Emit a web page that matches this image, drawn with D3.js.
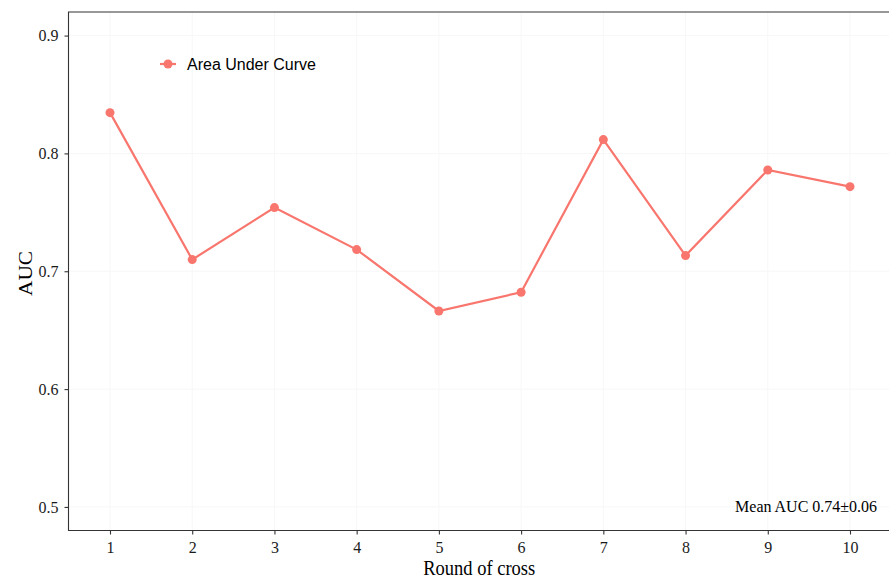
<!DOCTYPE html>
<html>
<head>
<meta charset="utf-8">
<script src="https://cdn.jsdelivr.net/npm/d3@7"></script>
<style>
  body { margin: 0; background: #fff; }
  svg { display: block; }
</style>
</head>
<body>
<svg id="chart" width="889" height="580"></svg>
<script>
// Cross-validation rounds and AUC per round
const rounds = [1, 2, 3, 4, 5, 6, 7, 8, 9, 10];
const aucValues = [0.8346, 0.7099, 0.7540, 0.7184, 0.6663, 0.6822, 0.8117, 0.7133, 0.7859, 0.7718];
const yTicks = [0.5, 0.6, 0.7, 0.8, 0.9];
const seriesName = "Area Under Curve";

const svg = d3.select("#chart");
const panel = { left: 68.5, top: 12, right: 889, bottom: 530.5 };
const color = "#F8766D";
const serif = "'Liberation Serif', 'Times New Roman', serif";

const x = d3.scaleLinear().domain([1, 10]).range([110, 850]);
const y = d3.scaleLinear().domain([0.48, 0.92]).range([panel.bottom, panel.top]);

const mean = d3.mean(aucValues);
const sd = d3.deviation(aucValues);

// faint background grid
const grid = svg.append("g");
grid.selectAll("line.h").data(yTicks).join("line")
  .attr("x1", panel.left).attr("x2", panel.right)
  .attr("y1", d => y(d)).attr("y2", d => y(d))
  .attr("stroke", "#f7f7f7").attr("stroke-width", 1);
grid.selectAll("line.v").data(rounds).join("line")
  .attr("y1", panel.top).attr("y2", panel.bottom)
  .attr("x1", d => x(d)).attr("x2", d => x(d))
  .attr("stroke", "#f7f7f7").attr("stroke-width", 1);

// panel border (top, left, bottom)
svg.append("path")
  .attr("d", `M${panel.right},${panel.top}H${panel.left}V${panel.bottom}H${panel.right}`)
  .attr("fill", "none").attr("stroke", "#333").attr("stroke-width", 1.1);

// y axis
const yAxis = svg.append("g")
  .attr("transform", `translate(${panel.left},0)`)
  .call(d3.axisLeft(y).tickValues(yTicks).tickFormat(d3.format(".1f")).tickSize(4).tickPadding(6));
yAxis.select(".domain").remove();
yAxis.selectAll(".tick line").attr("stroke", "#333").attr("stroke-width", 1.1);
yAxis.selectAll(".tick text")
  .attr("font-family", serif).attr("font-size", 16).attr("fill", "#1a1a1a");

// x axis
const xAxis = svg.append("g")
  .attr("transform", `translate(0,${panel.bottom})`)
  .call(d3.axisBottom(x).tickValues(rounds).tickFormat(d3.format("d")).tickSize(4).tickPadding(7));
xAxis.select(".domain").remove();
xAxis.selectAll(".tick line").attr("stroke", "#333").attr("stroke-width", 1.1);
xAxis.selectAll(".tick text")
  .attr("font-family", serif).attr("font-size", 16).attr("fill", "#1a1a1a");

// axis titles
svg.append("text")
  .attr("transform", `translate(${(panel.left + panel.right) / 2 + 0.5},575) scale(1,1.08)`)
  .attr("text-anchor", "middle")
  .attr("font-family", serif).attr("font-size", 18.5).attr("fill", "#000")
  .text("Round of cross");
svg.append("text")
  .attr("transform", `translate(31.5,273.5) rotate(-90) scale(1.12,1)`)
  .attr("text-anchor", "middle")
  .attr("font-family", serif).attr("font-size", 19).attr("fill", "#000")
  .text("AUC");

// series line and points
const data = rounds.map((r, i) => ({ r, v: aucValues[i] }));
svg.append("path")
  .datum(data)
  .attr("fill", "none").attr("stroke", color).attr("stroke-width", 2.2)
  .attr("d", d3.line().x(d => x(d.r)).y(d => y(d.v)));
svg.selectAll("circle.pt").data(data).join("circle")
  .attr("class", "pt")
  .attr("cx", d => x(d.r)).attr("cy", d => y(d.v))
  .attr("r", 4.5).attr("fill", color);

// legend
const lg = svg.append("g").attr("transform", "translate(168,64)");
lg.append("line").attr("x1", -8).attr("x2", 8).attr("stroke", color).attr("stroke-width", 2.2);
lg.append("circle").attr("r", 4.5).attr("fill", color);
lg.append("text").attr("x", 19).attr("y", 6)
  .attr("font-family", "'Liberation Sans', Arial, sans-serif")
  .attr("font-size", 16).attr("fill", "#000")
  .text(seriesName);

// mean annotation
svg.append("text")
  .attr("transform", "translate(877,512) scale(1,1.07)")
  .attr("text-anchor", "end")
  .attr("font-family", serif).attr("font-size", 16).attr("fill", "#000")
  .text(`Mean AUC ${mean.toFixed(2)}±${sd.toFixed(2)}`);
</script>
</body>
</html>
